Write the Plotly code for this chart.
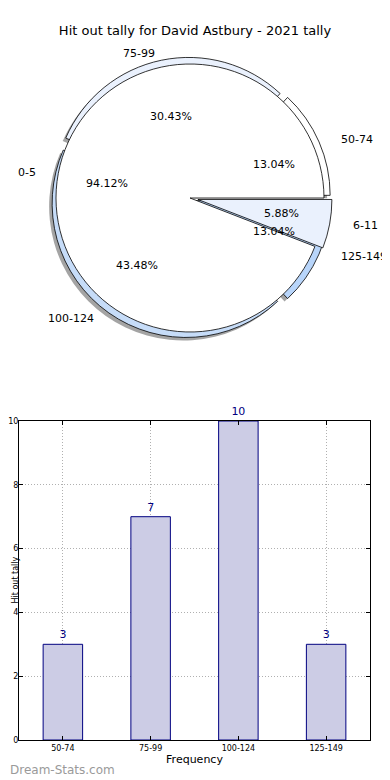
import numpy as np
import plotly.graph_objects as go

# ---------------- data ----------------
title_text = "Hit out tally for David Astbury - 2021 tally"
inner_labels = ["0-5", "6-11"]
inner_values = [16, 1]
outer_labels = ["50-74", "75-99", "100-124", "125-149"]
outer_values = [3, 7, 10, 3]
bar_categories = ["50-74", "75-99", "100-124", "125-149"]
bar_values = [3, 7, 10, 3]
y_ticks = [0, 2, 4, 6, 8, 10]

# ---------------- styling ----------------
OFF = 8                    # page body margin of the html page
W, H = 390 - OFF, 780 - OFF
CX, CY = 190, 198          # pie centre (page px)
R = 134                    # pie radius (px)
RX, RY = 141, 128          # label placement radii (px)
inner_pull = [0, 0.06]
outer_pull = [0.05, 0.05, 0.05, 0.05]
inner_colors = ["#ffffff", "#eaf1fd"]
outer_colors = ["#ffffff", "#eaf1fd", "#c6dcf8", "#b8d5fa"]
FONT = "DejaVu Sans"


def fx(px):
    return (px - OFF) / W


def fy(py):
    return 1 - (py - OFF) / H


def dom(cx, cy, maxpull):
    s = 2 * R * (1 + maxpull)
    return dict(x=[fx(cx - s / 2), fx(cx + s / 2)],
                y=[fy(cy + s / 2), fy(cy - s / 2)])


def start_rotation(values):
    # first slice starts at 3 o'clock and runs counter-clockwise (matplotlib style)
    return 90 - 360.0 * values[0] / sum(values)


fig = go.Figure()
common = dict(direction="counterclockwise", sort=False,
              textinfo="none", hoverinfo="label+percent", showlegend=False)

# shadow of the outer pie
fig.add_trace(go.Pie(labels=outer_labels, values=outer_values, pull=outer_pull,
                     rotation=start_rotation(outer_values),
                     domain=dom(CX - 3, CY + 3, max(outer_pull)),
                     marker=dict(colors=["rgba(90,90,90,0.55)"] * 4,
                                 line=dict(width=0)), **common))
# outer pie
fig.add_trace(go.Pie(labels=outer_labels, values=outer_values, pull=outer_pull,
                     rotation=start_rotation(outer_values),
                     domain=dom(CX, CY, max(outer_pull)),
                     marker=dict(colors=outer_colors,
                                 line=dict(color="black", width=0.8)), **common))
# inner pie
fig.add_trace(go.Pie(labels=inner_labels, values=inner_values, pull=inner_pull,
                     rotation=start_rotation(inner_values),
                     domain=dom(CX, CY, max(inner_pull)),
                     marker=dict(colors=inner_colors,
                                 line=dict(color="black", width=0.8)), **common))

annotations = []


def pie_text(labels, values, pulls):
    tot = float(sum(values))
    start = 0.0
    for lab, v, p in zip(labels, values, pulls):
        frac = v / tot
        mid = np.deg2rad(360 * (start + frac / 2))
        start += frac
        c, s = np.cos(mid), np.sin(mid)
        lx = CX + (1.1 + p) * RX * c
        ly = CY - (1.1 + p) * RY * s
        annotations.append(dict(x=fx(lx), y=fy(ly), xref="paper", yref="paper",
                                text=lab, showarrow=False,
                                xanchor="left" if c > 0 else "right", yanchor="middle",
                                font=dict(size=11, color="black", family=FONT)))
        px = CX + (0.6 + p) * RX * c
        py = CY - (0.6 + p) * RY * s
        annotations.append(dict(x=fx(px), y=fy(py), xref="paper", yref="paper",
                                text="%.2f%%" % (100 * frac), showarrow=False,
                                xanchor="center", yanchor="middle",
                                font=dict(size=11, color="black", family=FONT)))


pie_text(outer_labels, outer_values, outer_pull)
pie_text(inner_labels, inner_values, inner_pull)

# ---------------- bar chart ----------------
fig.add_trace(go.Bar(x=bar_categories, y=bar_values, width=0.45,
                     marker=dict(color="#ccccE5", line=dict(color="#000080", width=1)),
                     text=[str(v) for v in bar_values], textposition="outside",
                     textfont=dict(size=11, color="#000080", family=FONT),
                     cliponaxis=False, showlegend=False))

axis_common = dict(showline=True, linecolor="black", linewidth=1, mirror="allticks",
                   ticks="inside", ticklen=4, tickcolor="black", automargin=False,
                   showgrid=True, gridcolor="#b0b0b0", griddash="1px,2px", gridwidth=1,
                   tickfont=dict(size=8, color="black", family=FONT), zeroline=False)

fig.update_layout(
    width=W, height=H,
    margin=dict(l=0, r=0, t=0, b=0, pad=0, autoexpand=False),
    paper_bgcolor="white", plot_bgcolor="white",
    font=dict(family=FONT, color="black"),
    title=dict(text=title_text, x=fx(195), xanchor="center", xref="paper",
               y=fy(30), yanchor="middle", yref="container", automargin=False,
               font=dict(size=13, color="black", family=FONT)),
    xaxis=dict(domain=[fx(19), fx(370)], range=[-0.5, 3.5], type="category",
               title=dict(text="Frequency", font=dict(size=11, family=FONT), standoff=2),
               **axis_common),
    yaxis=dict(domain=[fy(740), fy(421)], range=[0, 10], tickvals=y_ticks,
               ticklabelstandoff=-2, **axis_common),
    bargap=0.5,
    annotations=annotations + [
        dict(x=0, y=fy(580), xref="paper", yref="paper", text="Hit out tally",
             textangle=-90, showarrow=False, xanchor="left", yanchor="middle",
             font=dict(size=8, color="black", family=FONT)),
        dict(x=0, y=fy(770), xref="paper", yref="paper", text="Dream-Stats.com",
             showarrow=False, xanchor="left", yanchor="middle",
             font=dict(size=12, color="#9a9a9a", family=FONT)),
    ],
)

fig.write_html("out.html")
